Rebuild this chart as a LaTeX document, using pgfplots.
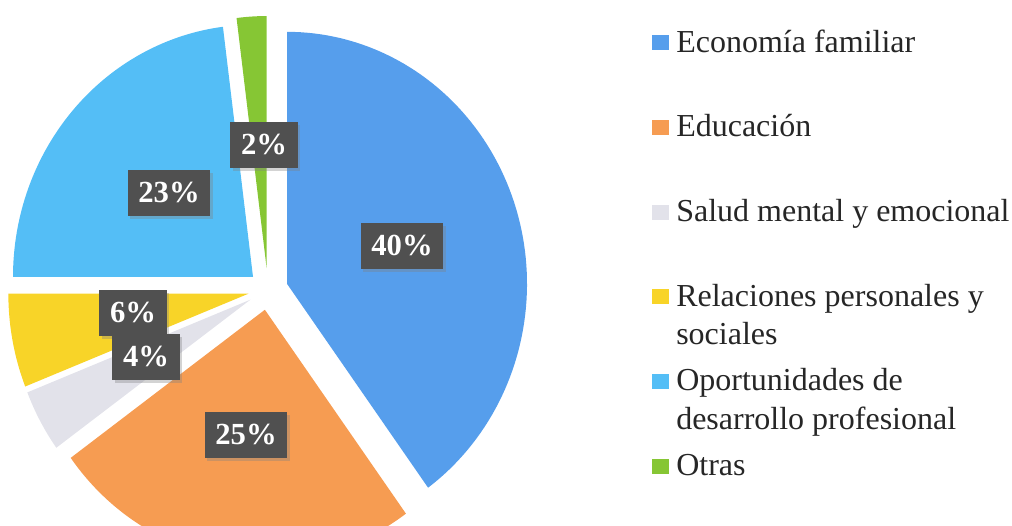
\documentclass[border=0pt]{standalone}
\usepackage{pgfplots}
\pgfplotsset{compat=1.18}
\usepackage{fontspec}
\setmainfont{Liberation Serif}
\usetikzlibrary{shadows}
\definecolor{cEco}{RGB}{86,158,236}
\definecolor{cEdu}{RGB}{246,156,82}
\definecolor{cSal}{RGB}{226,226,234}
\definecolor{cRel}{RGB}{248,212,40}
\definecolor{cOpo}{RGB}{84,190,246}
\definecolor{cOtr}{RGB}{134,198,52}
\definecolor{cLab}{RGB}{80,80,80}
\tikzset{lab/.style={fill=cLab, text=white, inner xsep=8pt, inner ysep=9.5pt,
    font=\fontsize{23}{23}\selectfont\bfseries,
    drop shadow={opacity=0.35, shadow xshift=2pt, shadow yshift=-2pt}}}
% pie geometry (pixel units of the picture)
\def\cx{268}\def\cy{235}\def\rx{240}\def\ry{252}
\gdef\cum{0}
\newcommand\pieslice[3]{% #1 value (percent), #2 colour, #3 explode
  \pgfmathsetmacro\aS{90-3.6*\cum}%
  \pgfmathsetmacro\aE{90-3.6*(\cum+#1)}%
  \pgfmathsetmacro\aM{(\aS+\aE)/2}%
  \pgfmathsetmacro\ox{\cx+#3*cos(\aM)}%
  \pgfmathsetmacro\oy{\cy+#3*sin(\aM)}%
  \pgfmathsetmacro\newcum{\cum+#1}%
  \xdef\cum{\newcum}%
  \edef\temp{\noexpand\addplot[fill=#2, draw=none, domain=\aE:\aS, samples=90, variable=\noexpand\t]
    ({\ox+\rx*cos(\noexpand\t)},{\oy+\ry*sin(\noexpand\t)}) -- (axis cs:\ox,\oy) -- cycle;}%
  \temp
}
\newcommand\lentry[1]{\parbox[t]{250pt}{\raggedright #1}}
\begin{document}
\begin{tikzpicture}
\begin{axis}[
  width=759pt, height=393.75pt, scale only axis,
  xmin=0, xmax=1012, ymin=0, ymax=525,
  hide axis, clip=true,
  legend image code/.code={\fill[#1] (0pt,1.5pt) rectangle (12.75pt,12.75pt);},
  legend style={at={(axis cs:652,497)}, anchor=north west, draw=none, fill=none,
    inner sep=0pt, row sep=0pt, column sep=5.25pt,
    font=\fontsize{24}{29}\selectfont, text=black!85,
    cells={anchor=base west}, nodes={inner sep=0pt, text height=18pt, text depth=45.5pt}},
]
\pieslice{40}{cEco}{20}
\pieslice{25}{cEdu}{20}
\pieslice{4}{cSal}{20}
\pieslice{6}{cRel}{20}
\pieslice{23}{cOpo}{20}
\pieslice{2}{cOtr}{22}
\legend{\lentry{Economía familiar},
        \lentry{Educación},
        \lentry{Salud mental y emocional},
        \lentry{Relaciones personales y\\sociales},
        \lentry{Oportunidades de\\desarrollo profesional},
        \lentry{Otras}}
\node[lab] at (axis cs:402,279) {40\%};
\node[lab] at (axis cs:264,380) {2\%};
\node[lab] at (axis cs:169,332) {23\%};
\node[lab] at (axis cs:133,212) {6\%};
\node[lab] at (axis cs:146,168) {4\%};
\node[lab] at (axis cs:246,90) {25\%};
\coordinate (bbSW) at (rel axis cs:0,0);
\coordinate (bbNE) at (rel axis cs:1,1);
\end{axis}
\pgfresetboundingbox
\path[use as bounding box] (bbSW) rectangle (bbNE);
\end{tikzpicture}
\end{document}
